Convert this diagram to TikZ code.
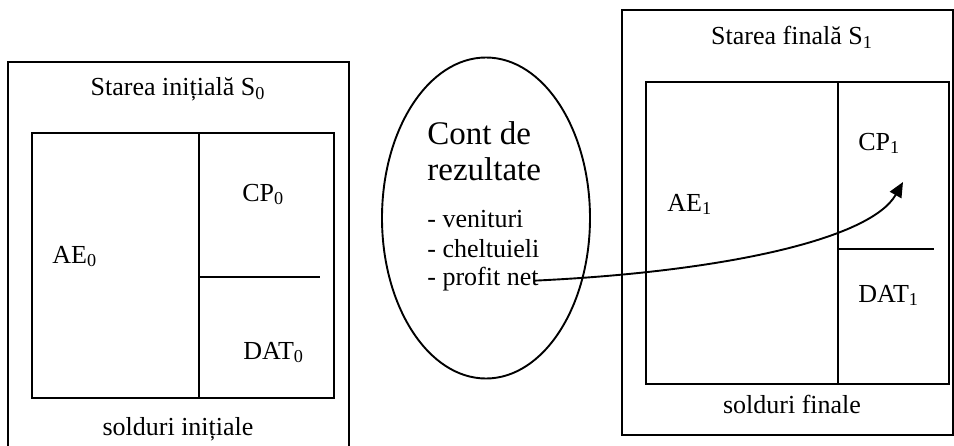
\documentclass[tikz,border=0pt]{standalone}
\usepackage{fontspec}
\setmainfont{Liberation Serif}
\usetikzlibrary{shapes.geometric,arrows.meta}
\begin{document}
\begin{tikzpicture}[x=0.5pt,y=-0.5pt,
  frame/.style={line width=0.95pt},
  txt/.style={inner sep=0pt, font=\fontsize{13}{15}\selectfont},
  bigtxt/.style={inner sep=0pt, font=\fontsize{16.5}{19}\selectfont},
  conn/.style={line width=0.95pt, -{Triangle[length=7.5pt,width=6.5pt]}}]
\useasboundingbox (0,0) rectangle (954,445);
\clip (0,0) rectangle (954,445);
% ---------- left: initial state
\draw[frame] (8,470) -- (8,62) -- (349,62) -- (349,470);
\node[txt] (t0) at (178,89) {Starea inițială S\textsubscript{0}};
\draw[frame] (32,133) rectangle (334,398);
\draw[frame] (199,133) -- (199,398);
\draw[frame] (199,277) -- (320,277);
\node[txt, anchor=base west] (ae0) at (52,263) {AE\textsubscript{0}};
\node[txt, anchor=base west] (cp0) at (242,201) {CP\textsubscript{0}};
\node[txt, anchor=base west] (dat0) at (243,359) {DAT\textsubscript{0}};
\node[txt, anchor=base] (s0) at (178,435) {solduri inițiale};
% ---------- middle: result account
\node[draw, frame, ellipse, inner sep=0pt, minimum width=104pt, minimum height=160.5pt] (cont) at (486,218) {};
\node[bigtxt, anchor=base west] (c1) at (427,144) {Cont de};
\node[bigtxt, anchor=base west] (c2) at (427,180) {rezultate};
\node[txt, anchor=base west] (v) at (427,227) {- venituri};
\node[txt, anchor=base west] (ch) at (427,257) {- cheltuieli};
\node[txt, anchor=base west] (profit) at (427,285) {- profit net};
% ---------- right: final state
\draw[frame] (622,10) rectangle (953,435);
\node[txt] (t1) at (792,37) {Starea finală S\textsubscript{1}};
\draw[frame] (646,82) rectangle (949,384);
\draw[frame] (838,82) -- (838,384);
\draw[frame] (838,249) -- (934,249);
\node[txt, anchor=base west] (cp1) at (858,150) {CP\textsubscript{1}};
\node[txt, anchor=base west] (ae1) at (667,211) {AE\textsubscript{1}};
\node[txt, anchor=base west] (dat1) at (858,302) {DAT\textsubscript{1}};
\node[txt, anchor=base] (s1) at (792,413) {solduri finale};
% ---------- connector
\coordinate (tip) at (903,182);
\draw[conn] ([xshift=-2pt,yshift=-1pt]profit.east) .. controls (720,272) and (870,240) .. (tip);
\end{tikzpicture}
\end{document}
